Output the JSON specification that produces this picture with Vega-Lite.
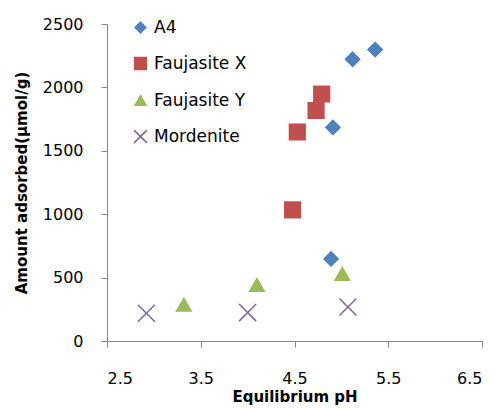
{
  "$schema": "https://vega.github.io/schema/vega-lite/v6.json",
  "width": 375,
  "height": 317,
  "autosize": {"type": "none"},
  "padding": {"left": 107, "top": 24, "right": 14, "bottom": 67},
  "background": "white",
  "config": {
    "view": {"stroke": null},
    "font": "DejaVu Sans",
    "axis": {
      "grid": false,
      "domainColor": "#868686",
      "tickColor": "#868686",
      "domainWidth": 1,
      "tickWidth": 1,
      "tickSize": 6,
      "labelColor": "#000000",
      "labelFont": "DejaVu Sans",
      "labelFontSize": 16,
      "titleColor": "#000000",
      "titleFont": "DejaVu Sans",
      "titleFontSize": 15,
      "titleFontWeight": "bold"
    }
  },
  "data": {
    "values": [
      {"series": "A4", "ph": 4.89, "amount": 647},
      {"series": "A4", "ph": 4.91, "amount": 1684},
      {"series": "A4", "ph": 5.12, "amount": 2222},
      {"series": "A4", "ph": 5.36, "amount": 2298},
      {"series": "Faujasite X", "ph": 4.48, "amount": 1034},
      {"series": "Faujasite X", "ph": 4.53, "amount": 1648},
      {"series": "Faujasite X", "ph": 4.73, "amount": 1818},
      {"series": "Faujasite X", "ph": 4.79, "amount": 1948},
      {"series": "Faujasite Y", "ph": 3.32, "amount": 287},
      {"series": "Faujasite Y", "ph": 4.10, "amount": 442},
      {"series": "Faujasite Y", "ph": 5.01, "amount": 529},
      {"series": "Mordenite", "ph": 2.92, "amount": 219},
      {"series": "Mordenite", "ph": 4.00, "amount": 224},
      {"series": "Mordenite", "ph": 5.07, "amount": 268}
    ]
  },
  "mark": {"type": "point", "filled": true, "opacity": 1, "size": 290, "strokeWidth": 1.5},
  "encoding": {
    "x": {
      "field": "ph",
      "type": "quantitative",
      "scale": {"domain": [2.5, 6.5], "nice": false, "zero": false},
      "axis": {
        "values": [2.5, 3.5, 4.5, 5.5, 6.5],
        "format": ".1f",
        "title": "Equilibrium pH",
        "labelPadding": 23,
        "titleBaseline": "alphabetic",
        "titleY": 60
      }
    },
    "y": {
      "field": "amount",
      "type": "quantitative",
      "scale": {"domain": [0, 2500], "nice": false},
      "axis": {
        "values": [0, 500, 1000, 1500, 2000, 2500],
        "format": "d",
        "title": "Amount adsorbed(μmol/g)",
        "labelPadding": 18,
        "titleBaseline": "alphabetic",
        "titleX": -81
      }
    },
    "fill": {
      "field": "series",
      "type": "nominal",
      "scale": {
        "domain": ["A4", "Faujasite X", "Faujasite Y", "Mordenite"],
        "range": ["#4F81BD", "#C0504D", "#9BBB59", "#8064A2"]
      },
      "legend": {"orient": "none", "legendX": 25, "legendY": -5, "title": null, "labelFont": "DejaVu Sans", "labelFontSize": 17, "labelColor": "#000000", "symbolSize": 164, "rowPadding": 18, "labelOffset": 5, "padding": 0, "symbolStrokeWidth": 1.5}
    },
    "stroke": {
      "field": "series",
      "type": "nominal",
      "scale": {
        "domain": ["A4", "Faujasite X", "Faujasite Y", "Mordenite"],
        "range": ["#4F81BD", "#C0504D", "#9BBB59", "#8064A2"]
      },
      "legend": {"orient": "none", "legendX": 25, "legendY": -5, "title": null, "labelFont": "DejaVu Sans", "labelFontSize": 17, "labelColor": "#000000", "symbolSize": 164, "rowPadding": 18, "labelOffset": 5, "padding": 0, "symbolStrokeWidth": 1.5}
    },
    "shape": {
      "field": "series",
      "type": "nominal",
      "scale": {
        "domain": ["A4", "Faujasite X", "Faujasite Y", "Mordenite"],
        "range": [
          "M0,-0.83L0.83,0L0,0.83L-0.83,0Z",
          "M-0.92,-0.92L0.92,-0.92L0.92,0.92L-0.92,0.92Z",
          "M0,-0.745L0.86,0.745L-0.86,0.745Z",
          "M-1,-1L1,1M-1,1L1,-1"
        ]
      },
      "legend": {"orient": "none", "legendX": 25, "legendY": -5, "title": null, "labelFont": "DejaVu Sans", "labelFontSize": 17, "labelColor": "#000000", "symbolSize": 164, "rowPadding": 18, "labelOffset": 5, "padding": 0, "symbolStrokeWidth": 1.5}
    }
  }
}
